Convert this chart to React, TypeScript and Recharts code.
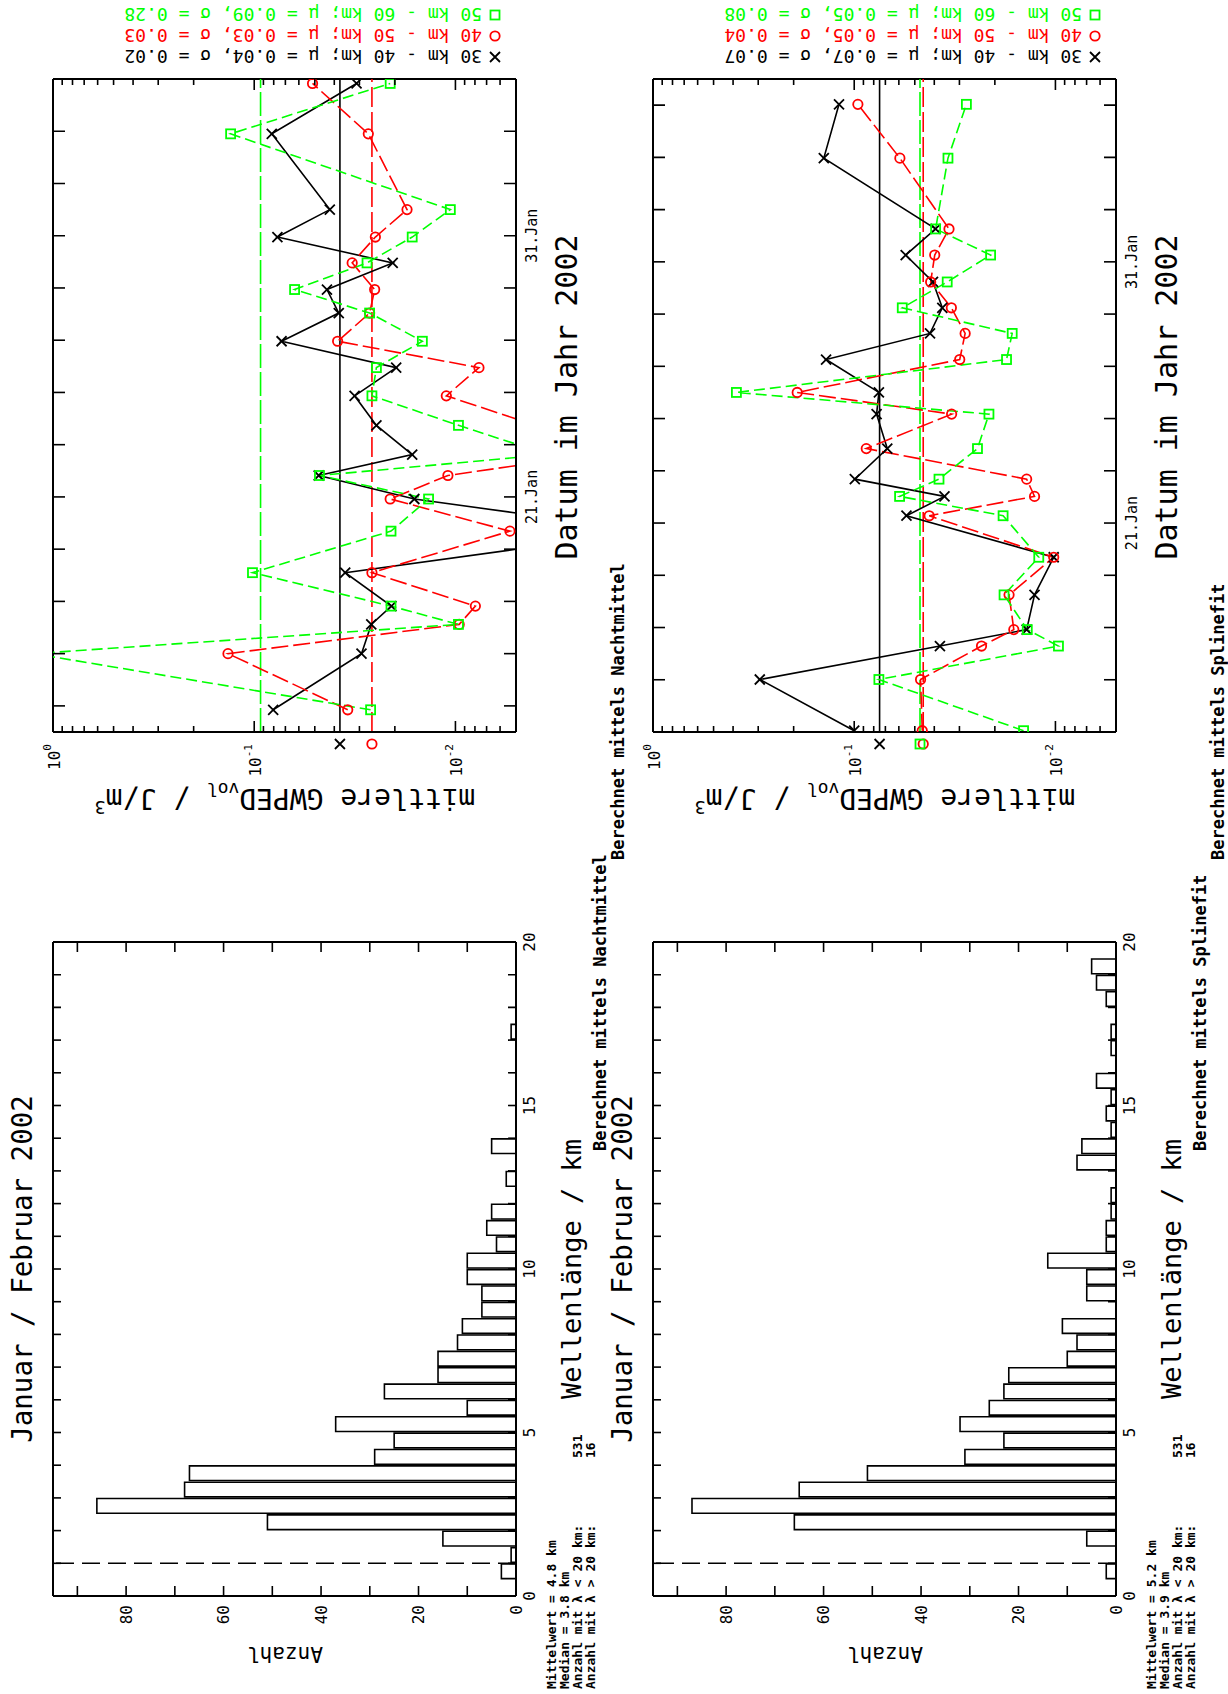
import React from 'react'
import { LineChart, ComposedChart, Line, XAxis, YAxis, ReferenceLine, ReferenceDot, Bar } from 'recharts'

const FONT = "'DejaVu Sans Mono', monospace"
const GREEN = '#00ff00'
const RED = '#ff0000'

// Tage im Januar 2002 (32 = 1. Feb)
const nachtTage = [12.85, 15.0, 16.12, 16.82, 18.1, 19.69, 20.92, 21.82, 22.62, 23.74, 24.87, 25.95, 26.96, 28.04, 28.94, 29.96, 30.95, 32.0, 34.9, 36.83]
const nacht3040 = [0.0805, 0.0293, 0.0262, 0.0208, 0.0353, 0.0011, 0.016, 0.0478, 0.0164, 0.0247, 0.0317, 0.0197, 0.0731, 0.038, 0.0435, 0.0205, 0.0767, 0.0421, 0.0818, 0.031]
const nacht4050 = [0.0343, 0.135, 0.00958, 0.00796, 0.026, 0.00536, 0.0211, 0.0109, 0.0021, 0.004, 0.0111, 0.00764, 0.0385, 0.0267, 0.0252, 0.0326, 0.025, 0.0174, 0.0271, 0.0513]
const nacht5060 = [0.0264, 1.25, 0.00966, 0.0209, 0.102, 0.0209, 0.0136, 0.0474, 0.00345, 0.00966, 0.026, 0.0247, 0.0146, 0.0267, 0.063, 0.0275, 0.0164, 0.0106, 0.131, 0.0211]
const nachtMittel = [0.0375, 0.026, 0.093]

const splineTage = [13.05, 15.01, 16.29, 16.92, 18.25, 19.69, 21.28, 22.02, 22.68, 23.85, 25.17, 26.0, 27.26, 28.26, 29.24, 30.23, 31.26, 32.26, 34.97, 37.03]
const spline3040 = [0.1, 0.2946, 0.0375, 0.0139, 0.0127, 0.0102, 0.055, 0.0356, 0.0993, 0.0685, 0.0774, 0.0754, 0.138, 0.042, 0.0365, 0.0406, 0.0555, 0.0394, 0.1416, 0.119]
const spline4050 = [0.0459, 0.0468, 0.0233, 0.0161, 0.017, 0.0102, 0.0424, 0.0127, 0.0139, 0.0871, 0.0328, 0.192, 0.0299, 0.0281, 0.0329, 0.0417, 0.0398, 0.0338, 0.0593, 0.0959]
const spline5060 = [0.0144, 0.0754, 0.00966, 0.0138, 0.018, 0.0121, 0.0182, 0.0595, 0.0379, 0.0244, 0.0214, 0.385, 0.0175, 0.0164, 0.0577, 0.0345, 0.021, 0.0394, 0.0342, 0.0277]
const splineMittel = [0.0748, 0.0454, 0.0471]

const nachtLegende = ['30 km - 40 km; µ = 0.04, σ = 0.02', '40 km - 50 km; µ = 0.03, σ = 0.03', '50 km - 60 km; µ = 0.09, σ = 0.28']
const splineLegende = ['30 km - 40 km; µ = 0.07, σ = 0.07', '40 km - 50 km; µ = 0.05, σ = 0.04', '50 km - 60 km; µ = 0.05, σ = 0.08']

const nachtTicks = [13, 15, 17, 19, 21, 23, 25, 27, 29, 31, 33, 35]
const splineTicks = [15, 17, 19, 21, 23, 25, 27, 29, 31, 33, 35, 37]
const datumLabels: Record<string, string> = { '21': '21.Jan', '31': '31.Jan' }
const logTicks = [1, 0.9, 0.8, 0.7, 0.6, 0.5, 0.4, 0.3, 0.2, 0.1, 0.09, 0.08, 0.07, 0.06, 0.05, 0.04, 0.03, 0.02, 0.01, 0.009, 0.008, 0.007, 0.006, 0.005]
const logLabels: Record<string, string> = { '1': '0', '0.1': '-1', '0.01': '-2' }

// Histogramm, Klassenbreite 0.5 km (Klassenmitten)
const klassenMitte = [0.25, 0.75, 1.25, 1.75, 2.25, 2.75, 3.25, 3.75, 4.25, 4.75, 5.25, 5.75, 6.25, 6.75, 7.25, 7.75, 8.25, 8.75, 9.25, 9.75, 10.25, 10.75, 11.25, 11.75, 12.25, 12.75, 13.25, 13.75, 14.25, 14.75, 15.25, 15.75, 16.25, 16.75, 17.25, 17.75, 18.25, 18.75, 19.25, 19.75]
const histNacht = [0, 3, 1, 15, 51, 86, 68, 67, 29, 25, 37, 10, 27, 16, 16, 12, 11, 7, 7, 10, 10, 4, 6, 5, 0, 2, 0, 5, 0, 0, 0, 0, 0, 0, 1, 0, 0, 0, 0, 0]
const histSpline = [0, 2, 0, 6, 66, 87, 65, 51, 31, 23, 32, 26, 23, 22, 10, 8, 11, 0, 6, 6, 14, 2, 2, 1, 1, 0, 8, 7, 1, 2, 1, 4, 0, 1, 1, 0, 2, 4, 5, 0]
const kmTicks = [0, 1, 2, 3, 4, 5, 6, 7, 8, 9, 10, 11, 12, 13, 14, 15, 16, 17, 18, 19, 20]
const anzahlTicks = [0, 10, 20, 30, 40, 50, 60, 70, 80, 90]

const nachtStats = ['4.8', '3.8', '531', '16']
const splineStats = ['5.2', '3.9', '531', '16']

const FARBEN = ['#000', RED, GREEN]
const MARKER = ['x', 'o', 's']
const LINIE = [undefined, '17 5', '11 5']
const MITTEL_LINIE = [undefined, '20 5', '24 4']
const axisStyle = { stroke: '#000', strokeWidth: 2 }

const BOX_W = 653
const BOX_H = 463
const LINE_L = 962
const HIST_L = 98
const HIST_W = 654
const RAND = 20

function Marker({ kind, cx, cy, color }: any) {
  if (kind === 'x')
    return <path d={`M${cx - 5},${cy - 5}L${cx + 5},${cy + 5}M${cx - 5},${cy + 5}L${cx + 5},${cy - 5}`} stroke={color} strokeWidth={1.8} fill="none" />
  if (kind === 'o') return <circle cx={cx} cy={cy} r={4.7} stroke={color} strokeWidth={1.8} fill="none" />
  return <rect x={cx - 4.5} y={cy - 4.5} width={9} height={9} stroke={color} strokeWidth={1.8} fill="none" />
}

// Striche nach innen, auch gespiegelt auf der Gegenseite des Rahmens
const datumTick = (p: any) => {
  const { x, y, payload } = p
  const lab = datumLabels[String(payload.value)]
  return (
    <g>
      <line x1={x} y1={y} x2={x} y2={y - 12} stroke="#000" strokeWidth={1.6} />
      <line x1={x} y1={y - BOX_H} x2={x} y2={y - BOX_H + 12} stroke="#000" strokeWidth={1.6} />
      {lab && <text x={x} y={y + 16} textAnchor="middle" dominantBaseline="central" fontSize={15} fontFamily={FONT}>{lab}</text>}
    </g>
  )
}

const logTick = (p: any) => {
  const { x, y, payload } = p
  const exp = logLabels[String(payload.value)]
  const len = exp ? 11 : 6
  return (
    <g>
      <line x1={x} y1={y} x2={x + len} y2={y} stroke="#000" strokeWidth={1.6} />
      <line x1={x + BOX_W} y1={y} x2={x + BOX_W - len} y2={y} stroke="#000" strokeWidth={1.6} />
      {exp && (
        <text x={x - 12} y={y + 1} textAnchor="end" dominantBaseline="central" fontSize={16} fontFamily={FONT}>
          10<tspan fontSize={11} dy={-7}>{exp}</tspan>
        </text>
      )}
    </g>
  )
}

const kmTick = (p: any) => {
  const { x, y, payload } = p
  const v = payload.value
  return (
    <g>
      <line x1={x} y1={y} x2={x} y2={y - 8} stroke="#000" strokeWidth={1.6} />
      <line x1={x} y1={y - BOX_H} x2={x} y2={y - BOX_H + 8} stroke="#000" strokeWidth={1.6} />
      {v % 5 === 0 && <text x={x} y={y + 13} textAnchor="middle" dominantBaseline="central" fontSize={16} fontFamily={FONT}>{v}</text>}
    </g>
  )
}

const anzahlTick = (p: any) => {
  const { x, y, payload } = p
  const v = payload.value
  return (
    <g>
      <line x1={x} y1={y} x2={x + 10} y2={y} stroke="#000" strokeWidth={1.6} />
      <line x1={x + HIST_W} y1={y} x2={x + HIST_W - 10} y2={y} stroke="#000" strokeWidth={1.6} />
      {v % 20 === 0 && <text x={x - 9} y={y} textAnchor="end" dominantBaseline="central" fontSize={16} fontFamily={FONT}>{v}</text>}
    </g>
  )
}

function Zeitreihe({ top, tage, werte, mittel, domain, ticks, mittelMarker }: any) {
  const data = tage.map((d: number, i: number) => ({ day: d, k0: werte[0][i], k1: werte[1][i], k2: werte[2][i] }))
  return (
    <div style={{ position: 'absolute', left: LINE_L - 60, top: top - RAND }}>
      <LineChart width={BOX_W + 60 + RAND} height={BOX_H + 40 + RAND} data={data} margin={{ top: RAND, right: RAND, bottom: 0, left: 0 }}>
        <XAxis dataKey="day" type="number" domain={domain} ticks={ticks} allowDataOverflow height={40}
          tickSize={0} tickMargin={0} interval={0} axisLine={axisStyle} tickLine={false} tick={datumTick} />
        <YAxis type="number" scale="log" domain={[0.005, 1]} ticks={logTicks} allowDataOverflow width={60}
          tickSize={0} tickMargin={0} interval={0} axisLine={axisStyle} tickLine={false} tick={logTick} />
        <ReferenceLine y={1} stroke="#000" strokeWidth={2} />
        <ReferenceLine x={domain[1]} stroke="#000" strokeWidth={2} />
        {mittel.map((m: number, i: number) => (
          <ReferenceLine key={`m${i}`} y={m} stroke={FARBEN[i]} strokeWidth={1.6} strokeDasharray={MITTEL_LINIE[i]} />
        ))}
        {mittel.map((m: number, i: number) =>
          mittelMarker[i] ? (
            <ReferenceDot key={`md${i}`} x={domain[0]} y={m} ifOverflow="visible"
              shape={(p: any) => <Marker kind={MARKER[i]} cx={p.cx - 12} cy={p.cy} color={FARBEN[i]} />} />
          ) : null
        )}
        {[0, 1, 2].map((i) => (
          <Line key={`l${i}`} dataKey={`k${i}`} type="linear" stroke={FARBEN[i]} strokeWidth={1.6} strokeDasharray={LINIE[i]}
            isAnimationActive={false}
            dot={(p: any) => <Marker key={`d${i}-${p.index}`} kind={MARKER[i]} cx={p.cx} cy={p.cy} color={FARBEN[i]} />}
            activeDot={false} />
        ))}
      </LineChart>
    </div>
  )
}

function Histogramm({ top, counts }: any) {
  const data = klassenMitte.map((k, i) => ({ k, n: counts[i] }))
  return (
    <div style={{ position: 'absolute', left: HIST_L - 50, top: top - RAND }}>
      <ComposedChart width={HIST_W + 50 + RAND} height={BOX_H + 40 + RAND} data={data} margin={{ top: RAND, right: RAND, bottom: 0, left: 0 }}
        barCategoryGap={0} barGap={0}>
        <XAxis dataKey="k" type="number" domain={[0, 20]} ticks={kmTicks} allowDataOverflow height={40}
          tickSize={0} tickMargin={0} interval={0} axisLine={axisStyle} tickLine={false} tick={kmTick} />
        <YAxis type="number" domain={[0, 95]} ticks={anzahlTicks} allowDataOverflow width={50}
          tickSize={0} tickMargin={0} interval={0} axisLine={axisStyle} tickLine={false} tick={anzahlTick} />
        <Bar dataKey="n" barSize={HIST_W / 40} fill="#fff" stroke="#000" strokeWidth={1.6} isAnimationActive={false} />
        <ReferenceLine y={95} stroke="#000" strokeWidth={2} />
        <ReferenceLine x={20} stroke="#000" strokeWidth={2} />
        <ReferenceLine x={1} stroke="#000" strokeWidth={1.6} strokeDasharray="18 8" />
      </ComposedChart>
    </div>
  )
}

function Beschriftung({ dy, stats, methode, legende }: any) {
  const statZeilen = [`Mittelwert = ${stats[0]} km`, `Median = ${stats[1]} km`, 'Anzahl mit λ < 20 km:', 'Anzahl mit λ > 20 km:']
  return (
    <g fontFamily={FONT} fill="#000">
      <text x={425} y={dy + 32} textAnchor="middle" fontSize={27.5}>Januar / Februar 2002</text>
      <text transform={`translate(47,${dy + 285}) rotate(-90)`} textAnchor="middle" fontSize={21}>Anzahl</text>
      <text x={425} y={dy + 581} textAnchor="middle" fontSize={27}>Wellenlänge / km</text>
      {statZeilen.map((s, i) => (
        <text key={s} x={5} y={dy + 556 + i * 13} fontSize={13} fontWeight="bold">{s}</text>
      ))}
      <text x={236} y={dy + 582} fontSize={13} fontWeight="bold">{stats[2]}</text>
      <text x={236} y={dy + 595} fontSize={13} fontWeight="bold">{stats[3]}</text>
      <text x={543} y={dy + 606} fontSize={17} fontWeight="bold">Berechnet mittels {methode}</text>
      <text x={834} y={dy + 624} fontSize={17} fontWeight="bold">Berechnet mittels {methode}</text>
      <text transform={`translate(905,${dy + 285}) rotate(-90)`} textAnchor="middle" fontSize={28}>
        mittlere GWPED<tspan fontSize={18} dy={6}>vol</tspan>
        <tspan dy={-6}> / J/m</tspan>
        <tspan fontSize={18} dy={-12}>3</tspan>
      </text>
      <text x={1297} y={dy + 577} textAnchor="middle" fontSize={30}>Datum im Jahr 2002</text>
      {legende.map((s: string, i: number) => (
        <g key={s}>
          <Marker kind={MARKER[i]} cx={1637 + 21 * i} cy={dy + 495} color={FARBEN[i]} />
          <text transform={`translate(${1644 + 21 * i},${dy + 482}) rotate(-90)`} fontSize={18} fill={FARBEN[i]}>{s}</text>
        </g>
      ))}
    </g>
  )
}

export default function App() {
  return (
    <div style={{ position: 'absolute', left: 0, top: 0, width: 1228, height: 1694, background: '#fff', overflow: 'hidden' }}>
      <div style={{ position: 'absolute', left: 0, top: 0, width: 1694, height: 1228, transformOrigin: '0 0', transform: 'translateY(1694px) rotate(-90deg)', fontFamily: FONT }}>
        <Histogramm top={53} counts={histNacht} />
        <Zeitreihe top={53} tage={nachtTage} werte={[nacht3040, nacht4050, nacht5060]} mittel={nachtMittel}
          domain={[12, 37]} ticks={nachtTicks} mittelMarker={[true, true, false]} />
        <Histogramm top={653} counts={histSpline} />
        <Zeitreihe top={653} tage={splineTage} werte={[spline3040, spline4050, spline5060]} mittel={splineMittel}
          domain={[13, 38]} ticks={splineTicks} mittelMarker={[true, true, true]} />
        <svg width={1694} height={1228} style={{ position: 'absolute', left: 0, top: 0, pointerEvents: 'none' }}>
          <Beschriftung dy={0} stats={nachtStats} methode="Nachtmittel" legende={nachtLegende} />
          <Beschriftung dy={600} stats={splineStats} methode="Splinefit" legende={splineLegende} />
        </svg>
      </div>
    </div>
  )
}
